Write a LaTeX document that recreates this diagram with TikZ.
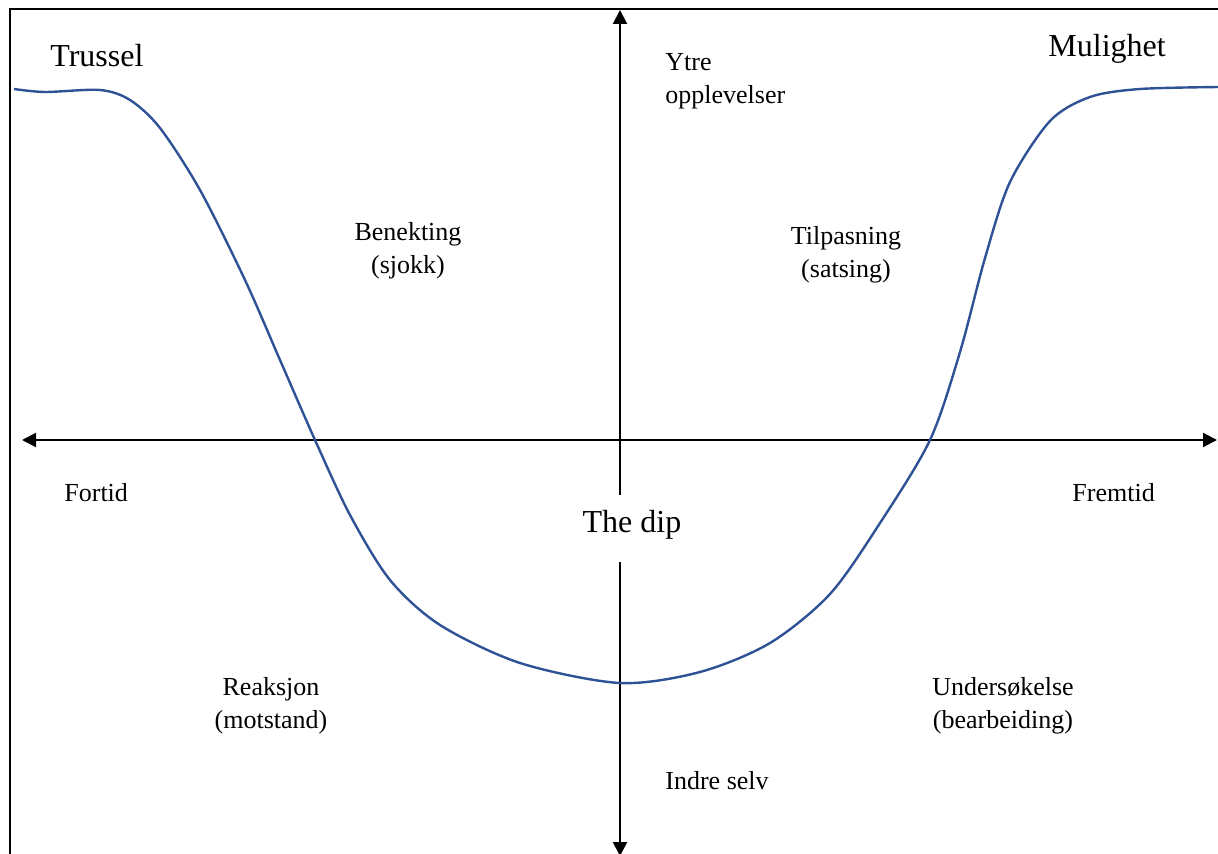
\documentclass[tikz,border=0pt]{standalone}
\usepackage{fontspec}
\setmainfont{Liberation Serif}
\usetikzlibrary{arrows.meta}
\definecolor{curveblue}{RGB}{47,82,150}
\tikzset{
  axis/.style={line width=1pt,-{Triangle[length=7pt,width=7pt]}},
  frameline/.style={line width=1pt},
  curveline/.style={line width=1.2pt,curveblue},
  lbl/.style={font=\fontsize{13}{16.5}\selectfont,align=center,inner sep=0pt},
  biglbl/.style={font=\fontsize{16}{19}\selectfont,inner sep=0pt},
}
\begin{document}
\begin{tikzpicture}[x=0.5pt,y=-0.5pt]
\useasboundingbox (0,0) rectangle (1218,854);
\clip (0,0) rectangle (1218,854);
% frame
\draw[frameline] (10,860) -- (10,9) -- (1220,9);
% coordinates
\coordinate (left) at (22,440);
\coordinate (right) at (1217,440);
\coordinate (hmid) at (620,440);
\coordinate (top) at (620,10);
\coordinate (bottom) at (620,856);
\coordinate (upgap) at (620,495);
\coordinate (downgap) at (620,562);
% axes
\draw[axis] (hmid) -- (left);
\draw[axis] (hmid) -- (right);
\draw[axis] (upgap) -- (top);
\draw[axis] (downgap) -- (bottom);
% curve
\draw[curveline] plot[smooth,tension=0.5] coordinates {
 (14,89) (45,92) (100,90) (130,100) (160,128) (200,190) (245,280) (280,360)
 (315,440) (350,515) (390,580) (440,625) (520,663) (620,683) (700,672)
 (770,643) (830,594) (880,523) (930,440) (960,352) (985,258) (1010,182)
 (1050,121) (1090,97) (1140,89) (1220,87)};
% labels
\node[biglbl,anchor=west] (trussel) at (50,56) {Trussel};
\node[biglbl,anchor=west] (mulighet) at (1048,49) {Mulighet};
\node[lbl,anchor=west,align=left] (ytre) at (665,81) {Ytre\\opplevelser};
\node[lbl] (benekting) at (408,251) {Benekting\\(sjokk)};
\node[lbl] (tilpasning) at (846,255) {Tilpasning\\(satsing)};
\node[lbl,anchor=west] (fortid) at (64,493) {Fortid};
\node[lbl,anchor=west] (fremtid) at (1072,493) {Fremtid};
\node[biglbl] (dip) at (632,525) {The dip};
\node[lbl] (reaksjon) at (271,706) {Reaksjon\\(motstand)};
\node[lbl] (undersokelse) at (1003,706) {Undersøkelse\\(bearbeiding)};
\node[lbl,anchor=west] (indre) at (665,781) {Indre selv};
\end{tikzpicture}
\end{document}
